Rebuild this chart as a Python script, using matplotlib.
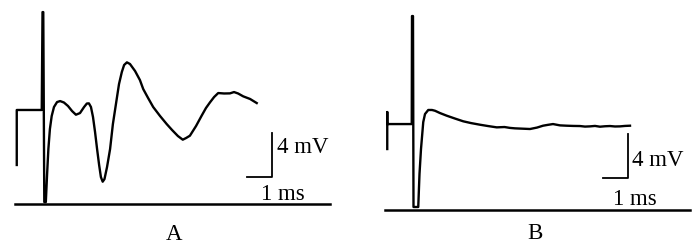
import matplotlib
matplotlib.use("Agg")
import matplotlib.pyplot as plt

# ---- data: panel A (time in ms relative to stimulus, potential in mV) ----
tA = [-0.99, -0.99, -0.01, 0.02, 0.05, 0.09, 0.15, 0.20, 0.25, 0.31, 0.38, 0.47,
      0.59, 0.71, 0.86, 1.02, 1.18, 1.33, 1.49, 1.65, 1.76, 1.84, 1.92, 2.00,
      2.08, 2.16, 2.24, 2.31, 2.38, 2.45, 2.55, 2.67, 2.78, 2.93, 3.02, 3.13,
      3.22, 3.33, 3.45, 3.65, 3.84, 3.97, 4.16, 4.36, 4.63, 4.89, 5.10, 5.33,
      5.52, 5.65, 5.80, 6.04, 6.26, 6.43, 6.59, 6.75, 6.91, 7.14, 7.37, 7.53,
      7.69, 7.89, 8.16, 8.42]
vA = [3.55, 8.55, 8.55, 17.45, 17.45, 0.18, 0.18, 2.73, 5.00, 6.82, 8.00, 8.82,
      9.27, 9.36, 9.23, 8.91, 8.45, 8.12, 8.27, 8.82, 9.14, 9.15, 8.82, 7.91,
      6.55, 5.00, 3.55, 2.45, 2.03, 2.27, 3.36, 5.00, 7.27, 9.55, 10.91, 12.00,
      12.64, 12.88, 12.73, 12.09, 11.27, 10.45, 9.64, 8.82, 8.00, 7.27, 6.73, 6.18,
      5.85, 6.00, 6.21, 7.09, 8.03, 8.73, 9.25, 9.73, 10.09, 10.05, 10.06, 10.18,
      10.05, 9.79, 9.55, 9.18]

# ---- data: panel B ----
tB = [-0.99, -0.99, -0.99, -0.01, 0.00, 0.04, 0.06, 0.25, 0.30, 0.36, 0.45, 0.52,
      0.65, 0.80, 0.92, 1.12, 1.39, 1.72, 2.05, 2.36, 2.72, 3.04, 3.39, 3.70,
      3.92, 4.12, 4.32, 4.52, 4.72, 5.00, 5.24, 5.44, 5.64, 5.92, 6.19, 6.45,
      6.72, 6.92, 7.12, 7.32, 7.52, 7.72, 7.92, 8.12, 8.32, 8.52, 8.72]
vB = [5.50, 8.86, 7.77, 7.77, 17.59, 17.59, 0.23, 0.23, 3.23, 5.50, 7.95, 8.68,
      9.05, 9.05, 8.98, 8.77, 8.53, 8.27, 8.02, 7.86, 7.71, 7.59, 7.47, 7.50,
      7.42, 7.38, 7.36, 7.34, 7.32, 7.45, 7.62, 7.70, 7.77, 7.65, 7.62, 7.60,
      7.59, 7.54, 7.56, 7.60, 7.53, 7.57, 7.59, 7.55, 7.56, 7.60, 7.62]

scale_ms = 1.0
scale_mV = 4.0
panel_labels = ["A", "B"]
scale_texts = ["4 mV", "1 ms"]

FONT = ["Liberation Serif", "DejaVu Serif"]
FS = 16.5
LW = 1.7

fig = plt.figure(figsize=(7.0, 2.51), dpi=100)
axA = fig.add_axes([0.0, 0.0, 0.5, 1.0])
axB = fig.add_axes([0.5, 0.0, 0.5, 1.0])

configs = [
    dict(ax=axA, t=tA, v=vA, xlim=(-1.647, 12.078), ylim=(-4.18, 18.64),
         base=(0.043, 0.943), corner=(9.03, 2.43),
         mv_pos=(9.22, 4.73), ms_pos=(9.44, 0.45)),
    dict(ax=axB, t=tB, v=vB, xlim=(-2.48, 11.52), ylim=(-3.68, 19.14),
         base=(0.10, 0.971), corner=(8.65, 2.84),
         mv_pos=(8.80, 4.07), ms_pos=(8.92, 0.50)),
]

for c in configs:
    ax = c["ax"]
    ax.plot(c["t"], c["v"], color="black", lw=LW, solid_joinstyle="round")
    ax.axhline(0, xmin=c["base"][0], xmax=c["base"][1], color="black", lw=1.8)
    cx, cy = c["corner"]
    ax.plot([cx - scale_ms, cx, cx], [cy, cy, cy + scale_mV], color="black", lw=1.3)
    ax.text(c["mv_pos"][0], c["mv_pos"][1], scale_texts[0], family=FONT,
            fontsize=FS, ha="left", va="baseline")
    ax.text(c["ms_pos"][0], c["ms_pos"][1], scale_texts[1], family=FONT,
            fontsize=FS, ha="center", va="baseline")
    ax.set_xlim(*c["xlim"])
    ax.set_ylim(*c["ylim"])
    ax.axis("off")

fig.text(174 / 700, 1 - 240 / 251, panel_labels[0], family=FONT, fontsize=FS,
         ha="center", va="baseline")
fig.text(534.5 / 700, 1 - 239 / 251, panel_labels[1], family=FONT, fontsize=FS,
         ha="center", va="baseline")

fig.savefig("out.png", dpi=100)
